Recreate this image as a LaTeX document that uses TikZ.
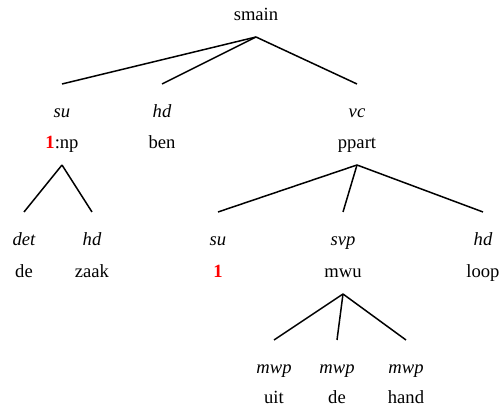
\documentclass[tikz,border=0pt]{standalone}
\usepackage{fontspec}
\setmainfont{Liberation Serif}
\usepackage{xcolor}
\definecolor{idxred}{HTML}{FF0000}
\usepackage{tikz}
\usetikzlibrary{positioning}
\tikzset{
  cat/.style   ={font=\fontsize{9.3}{11}\selectfont,inner sep=0pt,outer sep=0pt,
                 text height=1.55ex,text depth=.3ex,minimum height=22pt},
  rel/.style   ={font=\fontsize{9.3}{11}\selectfont\itshape,inner sep=0pt,outer sep=0pt,
                 text height=1.55ex,text depth=.3ex,minimum height=28pt},
  branch/.style={draw=black,line width=0.75pt},
}
\newcommand{\idx}[1]{\textcolor{idxred}{\textbf{#1}}}
\begin{document}
\begin{tikzpicture}[x=0.5pt,y=-0.5pt]
\useasboundingbox (0,0) rectangle (499,410);
% root
\node[cat] (smain) at (256,15) {smain};
% daughters of smain
\node[rel] (su1) at (62,112) {su};
\node[cat] (np) at (62,143) {\idx{1}:np};
\node[rel] (hd1) at (162,112) {hd};
\node[cat] (ben) at (162,143) {ben};
\node[rel] (vc) at (357,112) {vc};
\node[cat] (ppart) at (357,143) {ppart};
\draw[branch] (smain.south) -- (su1.north);
\draw[branch] (smain.south) -- (hd1.north);
\draw[branch] (smain.south) -- (vc.north);
% np
\node[rel] (det) at (24,240) {det};
\node[cat] (de1) at (24,272) {de};
\node[rel] (hd2) at (92,240) {hd};
\node[cat] (zaak) at (92,272) {zaak};
\draw[branch] (np.south) -- (det.north);
\draw[branch] (np.south) -- (hd2.north);
% ppart
\node[rel] (su2) at (218,240) {su};
\node[cat] (idx) at (218,272) {\idx{1}};
\node[rel] (svp) at (343,240) {svp};
\node[cat] (mwu) at (343,272) {mwu};
\node[rel] (hd3) at (483,240) {hd};
\node[cat] (loop) at (483,272) {loop};
\draw[branch] (ppart.south) -- (su2.north);
\draw[branch] (ppart.south) -- (svp.north);
\draw[branch] (ppart.south) -- (hd3.north);
% mwu
\node[rel] (mwp1) at (274,368) {mwp};
\node[cat] (uit) at (274,398) {uit};
\node[rel] (mwp2) at (337,368) {mwp};
\node[cat] (de2) at (337,398) {de};
\node[rel] (mwp3) at (406,368) {mwp};
\node[cat] (hand) at (406,398) {hand};
\draw[branch] (mwu.south) -- (mwp1.north);
\draw[branch] (mwu.south) -- (mwp2.north);
\draw[branch] (mwu.south) -- (mwp3.north);
\end{tikzpicture}
\end{document}
